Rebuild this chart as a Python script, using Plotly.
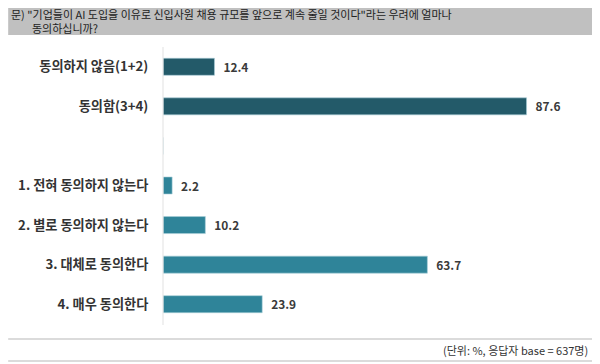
import plotly.graph_objects as go

categories = ["동의하지 않음(1+2)", "동의함(3+4)", " ", "1. 전혀 동의하지 않는다",
              "2. 별로 동의하지 않는다", "3. 대체로 동의한다", "4. 매우 동의한다"]
values = [12.4, 87.6, None, 2.2, 10.2, 63.7, 23.9]
group = ["sum", "sum", "gap", "item", "item", "item", "item"]
title_line1 = '문) "기업들이 AI 도입을 이유로 신입사원 채용 규모를 앞으로 계속 줄일 것이다"라는 우려에 얼마나'
title_line2 = '동의하십니까?'
footnote = '(단위: %, 응답자 base = 637명)'

# page body has an 8px default margin; figure sized to fit the 600x364 window
OFF = 8
W, H = 600 - OFF, 364 - OFF
L, R, T, B = 163 - OFF, 21.5, 47 - OFF, 40
pw, ph = W - L - R, H - T - B

def px(x):  # reference window pixel -> paper coord
    return (x - OFF - L) / pw

def py(y):
    return (H - B - (y - OFF)) / ph

col = {"sum": "#235a69", "item": "#2f8499", "gap": "#ffffff"}
colors = [col[g] for g in group]
texts = ["" if v is None else f"\u2002{v:.1f}" for v in values]

FONT = "Noto Sans CJK KR"

fig = go.Figure(go.Bar(
    x=[0 if v is None else v for v in values], y=categories, orientation="h",
    marker=dict(color=colors, line=dict(color="#a9cfd8", width=0.6)),
    width=0.43,
    text=texts, textposition="outside", cliponaxis=False,
    textfont=dict(family=FONT, size=14, color="#3a3a3a", weight="bold"),
))

fig.update_layout(
    width=W, height=H, margin=dict(l=L, r=R, t=T, b=B, autoexpand=False),
    paper_bgcolor="white", plot_bgcolor="white", showlegend=False,
    font=dict(family=FONT),
    xaxis=dict(range=[0, 100], visible=False, fixedrange=True),
    yaxis=dict(categoryorder="array", categoryarray=categories, autorange="reversed",
               showgrid=False, zeroline=False, showline=False, automargin=False,
               ticks="outside", ticklen=11, tickcolor="rgba(0,0,0,0)",
               tickfont=dict(family=FONT, size=13.2, color="#333333", weight="bold")),
    shapes=[
        dict(type="rect", xref="paper", yref="paper", x0=px(8), x1=px(598), y0=py(35), y1=py(8),
             fillcolor="#c0c0c0", line=dict(width=0), layer="below"),
        dict(type="line", xref="paper", yref="paper", x0=0, x1=0, y0=py(325), y1=py(47),
             line=dict(color="#e6e6e6", width=1.2)),
        dict(type="line", xref="paper", yref="paper", x0=px(8), x1=px(598), y0=py(339), y1=py(339),
             line=dict(color="#cfcfcf", width=1.5)),
        dict(type="line", xref="paper", yref="paper", x0=px(8), x1=px(598), y0=py(361), y1=py(361),
             line=dict(color="#cfcfcf", width=1.5)),
    ],
    annotations=[
        dict(xref="paper", yref="paper", x=px(9), y=py(13.5), text=title_line1, showarrow=False,
             xanchor="left", yanchor="middle", font=dict(family=FONT, size=11, color="#222222")),
        dict(xref="paper", yref="paper", x=px(30), y=py(28), text=title_line2, showarrow=False,
             xanchor="left", yanchor="middle", font=dict(family=FONT, size=11, color="#222222")),
        dict(xref="paper", yref="paper", x=px(591), y=py(350), text=footnote, showarrow=False,
             xanchor="right", yanchor="middle", font=dict(family=FONT, size=11, color="#333333")),
    ],
)

fig.write_html("out.html")
